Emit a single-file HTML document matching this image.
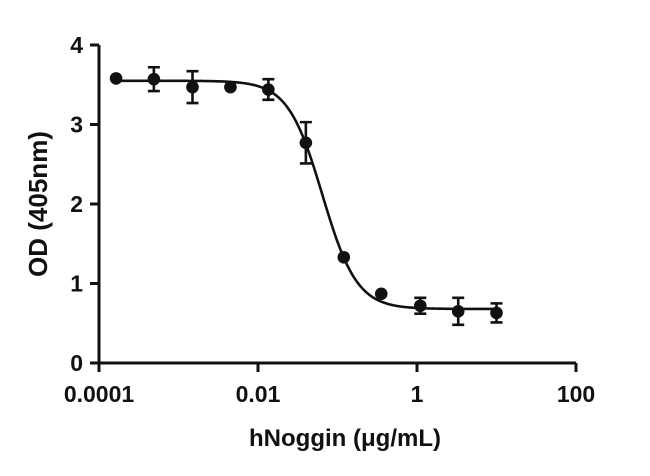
<!DOCTYPE html>
<html><head><meta charset="utf-8"><style>
html,body{margin:0;padding:0;background:#fff;}
svg{display:block;font-family:"Liberation Sans",Arial,sans-serif;}
</style></head><body>
<svg id="chart" width="650" height="476" viewBox="0 0 650 476"></svg>
<script>
const concentrations=[0.000164,0.00049,0.0015,0.0045,0.0135,0.04,0.12,0.355,1.1,3.3,10];
const odValues=[3.58,3.57,3.47,3.47,3.44,2.77,1.33,0.87,0.72,0.65,0.63];
const odErrors=[0,0.15,0.2,0,0.13,0.26,0,0,0.1,0.17,0.12];
const xTickValues=[0.0001,0.01,1,100];
const xTickLabels=["0.0001","0.01","1","100"];
const yTickValues=[0,1,2,3,4];
const fitTop=[3.55],fitBottom=[0.68],fitLogIC50=[-1.19],fitHill=[2.0];

const svg=document.getElementById('chart');
const NS='http://www.w3.org/2000/svg';
const X0=99,DEC=79.5,Y0=363,UNIT=79.5;
function sx(v){return X0+(Math.log10(v)+4)*DEC;}
function sy(v){return Y0-v*UNIT;}
function mk(t,a){const e=document.createElementNS(NS,t);for(const k in a)e.setAttribute(k,a[k]);svg.appendChild(e);return e;}

let e=mk('line',{x1:X0,y1:sy(4),x2:X0,y2:Y0+1,stroke:'#111','stroke-width':3});


e=mk('line',{x1:X0-1,y1:Y0,x2:sx(100),y2:Y0,stroke:'#111','stroke-width':3});



yTickValues.forEach(v=>{
 let t=mk('line',{x1:X0-9,y1:sy(v),x2:X0,y2:sy(v),stroke:'#111','stroke-width':3});
 
 
 let l=mk('text',{x:X0-16,y:sy(v)+8,'text-anchor':'end','font-size':23,'font-weight':'bold',fill:'#111'});
 l.textContent=v;
 
 
});
xTickValues.forEach((v,i)=>{
 let t=mk('line',{x1:sx(v),y1:Y0,x2:sx(v),y2:Y0+9,stroke:'#111','stroke-width':3});
 
 
 let l=mk('text',{x:sx(v),y:Y0+39,'text-anchor':'middle','font-size':23,'font-weight':'bold',fill:'#111'});
 l.textContent=xTickLabels[i];
 
 
});

let yt=mk('text',{x:0,y:0,transform:'translate(47,204) rotate(-90)','text-anchor':'middle','font-size':26,'font-weight':'bold',fill:'#111'});
yt.textContent='OD (405nm)';


let xt=mk('text',{x:345,y:446,'text-anchor':'middle','font-size':24,'font-weight':'bold',fill:'#111'});
xt.textContent='hNoggin (\u03bcg/mL)';



let d='';
const lmin=Math.log10(concentrations[0]),lmax=Math.log10(concentrations[concentrations.length-1]);
for(let i=0;i<=200;i++){
 const lx=lmin+(lmax-lmin)*i/200;
 const y=fitBottom[0]+(fitTop[0]-fitBottom[0])/(1+Math.pow(10,(lx-fitLogIC50[0])*fitHill[0]));
 d+=(i?'L':'M')+(X0+(lx+4)*DEC).toFixed(2)+','+sy(y).toFixed(2);
}
let c=mk('path',{d:d,fill:'none',stroke:'#111','stroke-width':2.6});



concentrations.forEach((v,i)=>{
 const x=sx(v),y=sy(odValues[i]),er=odErrors[i];
 if(er>0){
  const g=mk('path',{d:`M${x},${sy(odValues[i]+er)}V${sy(odValues[i]-er)}M${x-6},${sy(odValues[i]+er)}H${x+6}M${x-6},${sy(odValues[i]-er)}H${x+6}`,stroke:'#111','stroke-width':2.6,fill:'none'});
  
  
 }
 const p=mk('circle',{cx:x,cy:y,r:6.3,fill:'#111'});
 
 
});
</script>
</body></html>
